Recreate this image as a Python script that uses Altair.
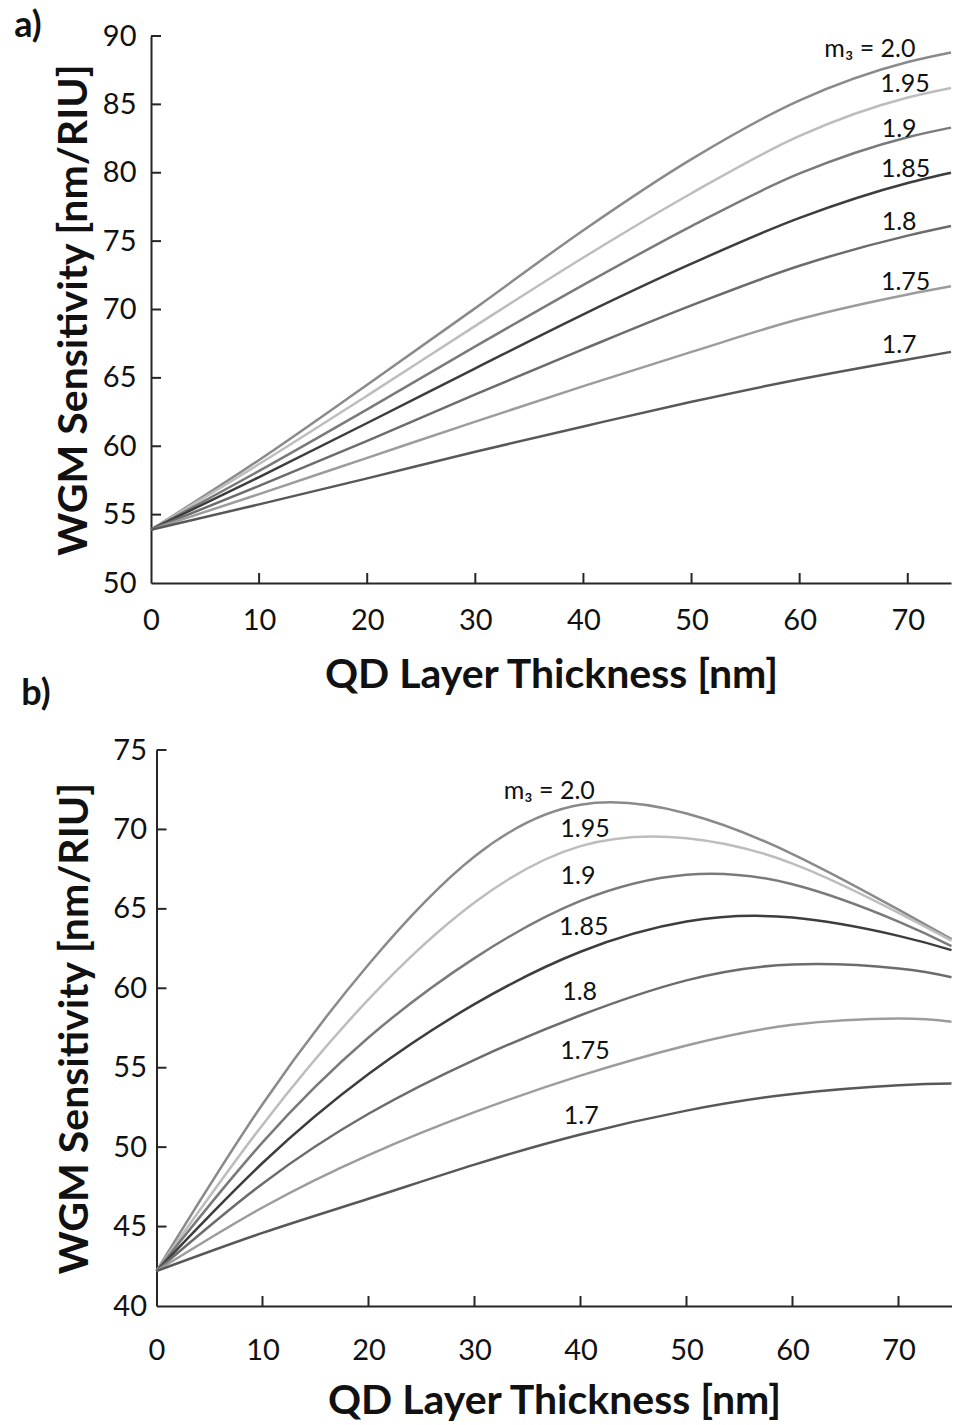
import altair as alt
import pandas as pd

FONT = "Lato"

SERIES = ["2.0", "1.95", "1.9", "1.85", "1.8", "1.75", "1.7"]
COLORS = ["#8a8a8a", "#bdbdbd", "#7a7a7a", "#3d3d3d", "#6c6c6c", "#9c9c9c", "#585858"]

# ---------------- panel a ----------------
XA = [0, 10, 20, 30, 40, 50, 60, 70, 74]
A_20 = [53.9, 59.0, 64.5, 70.1, 75.8, 81.0, 85.3, 88.1, 88.8]
A_195 = [53.9, 58.7, 63.7, 68.8, 73.8, 78.5, 82.7, 85.5, 86.2]
A_19 = [53.9, 58.2, 62.7, 67.3, 71.8, 76.1, 79.95, 82.6, 83.3]
A_185 = [53.9, 57.75, 61.7, 65.7, 69.65, 73.35, 76.7, 79.25, 80.0]
A_18 = [53.9, 57.1, 60.4, 63.8, 67.1, 70.3, 73.2, 75.4, 76.1]
A_175 = [53.9, 56.5, 59.15, 61.8, 64.4, 66.9, 69.3, 71.1, 71.7]
A_17 = [53.9, 55.75, 57.65, 59.6, 61.45, 63.25, 64.9, 66.35, 66.9]

A_LABEL_TEXT = ["m\u2083 = 2.0", "1.95", "1.9", "1.85", "1.8", "1.75", "1.7"]
A_LABEL_X = [66.5, 69.75, 69.2, 69.8, 69.2, 69.8, 69.2]
A_LABEL_Y = [88.44, 85.92, 82.63, 79.7, 75.8, 71.46, 66.82]

A_XDOM = [0, 74]
A_YDOM = [50, 90]
A_XLABELS = [0, 10, 20, 30, 40, 50, 60, 70]
A_YLABELS = [50, 55, 60, 65, 70, 75, 80, 85, 90]
A_XTICKS = [10, 20, 30, 40, 50, 60, 70]
A_YTICKS = [55, 60, 65, 70, 75, 80, 85, 90]

# ---------------- panel b ----------------
XB = [0, 10, 20, 30, 40, 50, 60, 70, 75]
B_20 = [42.2, 52.7, 61.5, 68.3, 71.55, 71.0, 68.45, 64.95, 63.1]
B_195 = [42.2, 51.4, 59.3, 65.4, 68.95, 69.45, 67.85, 64.75, 63.0]
B_19 = [42.2, 50.3, 56.9, 61.9, 65.5, 67.15, 66.55, 64.2, 62.65]
B_185 = [42.2, 49.0, 54.6, 59.0, 62.3, 64.2, 64.45, 63.3, 62.4]
B_18 = [42.2, 47.7, 52.1, 55.5, 58.3, 60.5, 61.5, 61.25, 60.7]
B_175 = [42.2, 46.2, 49.5, 52.2, 54.5, 56.4, 57.7, 58.1, 57.9]
B_17 = [42.2, 44.6, 46.75, 48.9, 50.8, 52.3, 53.35, 53.9, 54.0]

B_LABEL_TEXT = ["m\u2083 = 2.0", "1.95", "1.9", "1.85", "1.8", "1.75", "1.7"]
B_LABEL_X = [37.05, 40.42, 39.77, 40.3, 39.92, 40.42, 40.07]
B_LABEL_Y = [71.93, 69.52, 66.58, 63.33, 59.24, 55.57, 51.48]

B_XDOM = [0, 75]
B_YDOM = [40, 75]
B_XLABELS = [0, 10, 20, 30, 40, 50, 60, 70]
B_YLABELS = [40, 45, 50, 55, 60, 65, 70, 75]
B_XTICKS = [10, 20, 30, 40, 50, 60, 70]
B_YTICKS = [45, 50, 55, 60, 65, 70, 75]

AXIS_COLOR = "#262626"


def long_df(xs, ys_list):
    rows = []
    for s, ys in zip(SERIES, ys_list):
        for xv, yv in zip(xs, ys):
            rows.append({"x": xv, "y": yv, "m3": s})
    return pd.DataFrame(rows)


def panel(df, xdom, ydom, xlabels, ylabels, xticks, yticks, lab_text, lab_x, lab_y,
          W, H, xlabpad, xtitlepad, ylabpad, ytitlepad, interp, extra_layers):
    xs = alt.Scale(domain=xdom, nice=False, zero=False)
    ys = alt.Scale(domain=ydom, nice=False, zero=False)
    xaxis = alt.Axis(values=xlabels, ticks=False, grid=False, title="QD Layer Thickness [nm]",
                     labelFont=FONT, labelFontSize=29, labelColor="#111", labelPadding=xlabpad,
                     titleFont=FONT, titleFontSize=41, titleFontWeight="bold", titleColor="#111",
                     titlePadding=xtitlepad, domainColor=AXIS_COLOR, domainWidth=2,
                     labelFlush=False, labelOverlap=False)
    yaxis = alt.Axis(values=ylabels, ticks=False, grid=False, title="WGM Sensitivity [nm/RIU]",
                     labelFont=FONT, labelFontSize=29, labelColor="#111", labelPadding=ylabpad,
                     titleFont=FONT, titleFontSize=41, titleFontWeight="bold", titleColor="#111",
                     titlePadding=ytitlepad, domainColor=AXIS_COLOR, domainWidth=2,
                     labelFlush=False, labelOverlap=False)
    lines = alt.Chart(df).mark_line(strokeWidth=2.5, interpolate=interp).encode(
        x=alt.X("x:Q", scale=xs, axis=xaxis),
        y=alt.Y("y:Q", scale=ys, axis=yaxis),
        color=alt.Color("m3:N", scale=alt.Scale(domain=SERIES, range=COLORS), legend=None),
    )
    xt = alt.Chart(pd.DataFrame({"t": xticks})).mark_rule(color=AXIS_COLOR, strokeWidth=2).encode(
        x=alt.X("t:Q", scale=xs), y=alt.value(H), y2=alt.value(H - 10))
    yt = alt.Chart(pd.DataFrame({"t": yticks})).mark_rule(color=AXIS_COLOR, strokeWidth=2).encode(
        y=alt.Y("t:Q", scale=ys), x=alt.value(0), x2=alt.value(10))
    labels = alt.Chart(pd.DataFrame({"x": lab_x, "y": lab_y, "t": lab_text})).mark_text(
        font=FONT, fontSize=25, color="#111", align="center", baseline="alphabetic").encode(
        x=alt.X("x:Q", scale=xs), y=alt.Y("y:Q", scale=ys), text="t:N")
    return alt.layer(lines, xt, yt, labels, *extra_layers).properties(width=W, height=H)


tag_a = alt.Chart(pd.DataFrame({"t": ["a)"]})).mark_text(
    font=FONT, fontSize=36, fontWeight="bold", color="#111", align="center", baseline="alphabetic"
).encode(text="t:N", x=alt.value(-123), y=alt.value(1))
tag_b = alt.Chart(pd.DataFrame({"t": ["b)"]})).mark_text(
    font=FONT, fontSize=36, fontWeight="bold", color="#111", align="center", baseline="alphabetic"
).encode(text="t:N", x=alt.value(-115), y=alt.value(669))
spacer = alt.Chart(pd.DataFrame({"t": [0]})).mark_rule(opacity=0, strokeWidth=1).encode(
    x=alt.value(811), y=alt.value(0), y2=alt.value(10))

dfa = long_df(XA, [A_20, A_195, A_19, A_185, A_18, A_175, A_17])
dfb = long_df(XB, [B_20, B_195, B_19, B_185, B_18, B_175, B_17])

pa = panel(dfa, A_XDOM, A_YDOM, A_XLABELS, A_YLABELS, A_XTICKS, A_YTICKS,
           A_LABEL_TEXT, A_LABEL_X, A_LABEL_Y, 800, 547, 23, 20, 15, 7, "monotone",
           [tag_a, tag_b, spacer])
pb = panel(dfb, B_XDOM, B_YDOM, B_XLABELS, B_YLABELS, B_XTICKS, B_YTICKS,
           B_LABEL_TEXT, B_LABEL_X, B_LABEL_Y, 795, 556, 30, 16, 10, 16, "natural", [])

chart = alt.vconcat(pa, pb, spacing=24, center=True).properties(
    autosize=alt.AutoSizeParams(type="none"),
    padding={"left": 151, "top": 36, "right": 803, "bottom": 1389},
    background="white",
).configure_view(stroke=None)

chart.save("out.html", embed_options={"renderer": "svg", "actions": False})
